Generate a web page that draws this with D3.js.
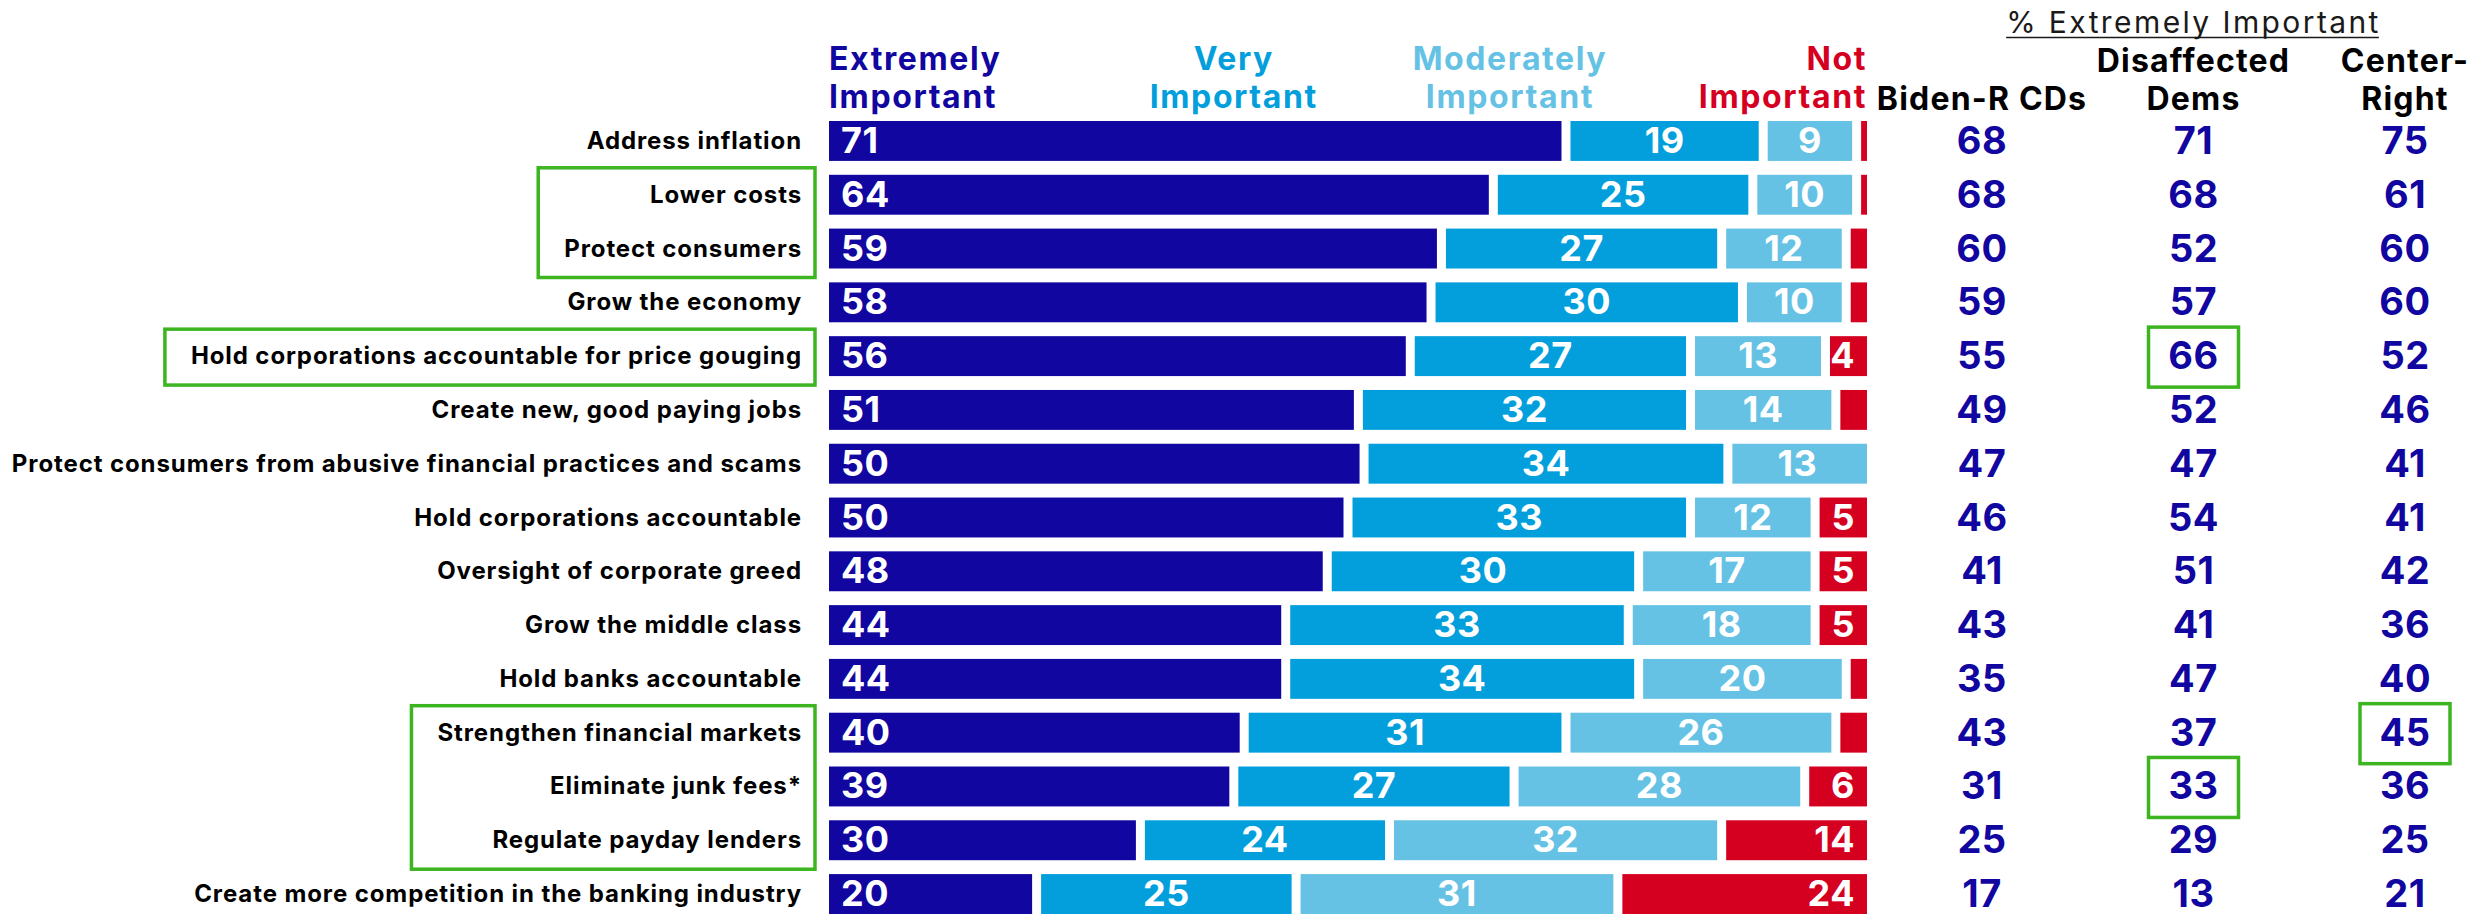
<!DOCTYPE html>
<html>
<head>
<meta charset="utf-8">
<script src="https://cdn.jsdelivr.net/npm/d3@7"></script>
<style>
  html, body { margin: 0; padding: 0; background: #fff; }
  svg { display: block; font-family: Inter, "Open Sans", sans-serif; }
</style>
</head>
<body>
<svg id="chart"></svg>
<script>
// Issues, top to bottom
const issues = [
    "Address inflation",
    "Lower costs",
    "Protect consumers",
    "Grow the economy",
    "Hold corporations accountable for price gouging",
    "Create new, good paying jobs",
    "Protect consumers from abusive financial practices and scams",
    "Hold corporations accountable",
    "Oversight of corporate greed",
    "Grow the middle class",
    "Hold banks accountable",
    "Strengthen financial markets",
    "Eliminate junk fees*",
    "Regulate payday lenders",
    "Create more competition in the banking industry"
];

// importance ratings, % of all voters
const extremely  = [71, 64, 59, 58, 56, 51, 50, 50, 48, 44, 44, 40, 39, 30, 20];
const very       = [19, 25, 27, 30, 27, 32, 34, 33, 30, 33, 34, 31, 27, 24, 25];
const moderately = [ 9, 10, 12, 10, 13, 14, 13, 12, 17, 18, 20, 26, 28, 32, 31];
const notImp     = [ 1,  1,  2,  2,  4,  3,  0,  5,  5,  5,  2,  3,  6, 14, 24];

const levels = ["Extremely Important", "Very Important", "Moderately Important", "Not Important"];
const levelLines = [["Extremely", "Important"], ["Very", "Important"], ["Moderately", "Important"], ["Not", "Important"]];
const levelColors = ["#11069f", "#039fdc", "#66c2e4", "#d5001f"];

// % extremely important by group
const groups = ["Biden-R CDs", "Disaffected Dems", "Center-Right"];
const groupLines = [["Biden-R CDs"], ["Disaffected", "Dems"], ["Center-", "Right"]];
const bidenR      = [68, 68, 60, 59, 55, 49, 47, 46, 41, 43, 35, 43, 31, 25, 17];
const disaffected = [71, 68, 52, 57, 66, 52, 47, 54, 51, 41, 47, 37, 33, 29, 13];
const centerRight = [75, 61, 60, 60, 52, 46, 41, 41, 42, 36, 40, 45, 36, 25, 21];
const groupValues = [bidenR, disaffected, centerRight];

// green highlight boxes
const labelHighlights = [[1, 2], [4], [11, 12, 13]];
const cellHighlights = [[4, "Disaffected Dems"], [11, "Center-Right"], [12, "Disaffected Dems"]];

const width = 2481, height = 916;
const navy = "#11069f", green = "#3cb521";

const svg = d3.select("#chart")
    .attr("width", width)
    .attr("height", height);

// scales
const y = d3.scaleBand()
    .domain(issues)
    .range([121, 914])
    .paddingInner(0.258);

const x = d3.scaleLinear()
    .domain([0, 100])
    .range([829, 1867]);

const gx = d3.scalePoint()
    .domain(groups)
    .range([1982, 2405]);

const gap = 9;

// build stacked rows (each row spans the full width)
const rows = issues.map((issue, i) => {
    const vals = [extremely[i], very[i], moderately[i], notImp[i]];
    const total = d3.sum(vals);
    let cum = 0;
    const segs = vals.map((v, k) => {
        const s = { issue, k, value: v, start: cum / total * 100, end: (cum + v) / total * 100 };
        cum += v;
        return s;
    }).filter(s => s.value > 0);
    segs.forEach((s, j) => { s.first = j === 0; s.last = j === segs.length - 1; });
    return segs;
});
const segments = rows.flat();

const barG = svg.append("g").attr("class", "bars");

barG.selectAll("rect")
    .data(segments)
    .join("rect")
    .attr("x", d => x(d.start) + (d.first ? 0 : gap / 2))
    .attr("width", d => Math.max(1.5, x(d.end) - x(d.start) - (d.first ? 0 : gap / 2) - (d.last ? 0 : gap / 2)))
    .attr("y", d => y(d.issue))
    .attr("height", y.bandwidth())
    .attr("fill", d => levelColors[d.k]);

// value labels inside bars
barG.selectAll("text")
    .data(segments.filter(d => d.k < 3 || d.value >= 4))
    .join("text")
    .attr("x", d => {
        if (d.k === 0) return x(d.start) + 12;
        if (d.k === 3) return x(d.end) - 12;
        return (x(d.start) + x(d.end)) / 2;
    })
    .attr("y", d => y(d.issue) + y.bandwidth() / 2 + 12)
    .attr("text-anchor", d => d.k === 0 ? "start" : d.k === 3 ? "end" : "middle")
    .attr("fill", "white")
    .style("font-size", "36px")
    .style("font-weight", 700)
    .style("letter-spacing", "0.5px")
    .text(d => d.value);

// issue labels
const labelG = svg.append("g").attr("class", "labels");
labelG.selectAll("text")
    .data(issues)
    .join("text")
    .attr("x", 802)
    .attr("y", d => y(d) + y.bandwidth() / 2 + 8)
    .attr("text-anchor", "end")
    .attr("fill", "#000")
    .style("font-size", "24px")
    .style("font-weight", 700)
    .style("letter-spacing", "0.9px")
    .text(d => d);

// legend headers over bars
const legendX = [x(0), x(39), x(65.6), x(100)];
const legendAnchor = ["start", "middle", "middle", "end"];
levelLines.forEach((lines, k) => {
    const t = svg.append("text")
        .attr("x", legendX[k])
        .attr("text-anchor", legendAnchor[k])
        .attr("fill", levelColors[k])
        .style("font-size", "32px")
        .style("font-weight", 700)
        .style("letter-spacing", "1.6px");
    lines.forEach((line, j) => {
        t.append("tspan")
            .attr("x", legendX[k])
            .attr("y", 108 - (lines.length - 1 - j) * 38)
            .text(line);
    });
});

// group column title
const title = svg.append("text")
    .attr("x", gx("Disaffected Dems"))
    .attr("y", 33)
    .attr("text-anchor", "middle")
    .attr("fill", "#1a1a1a")
    .style("font-size", "30px")
    .style("font-weight", 400)
    .style("letter-spacing", "2.4px")
    .text("% Extremely Important");
const tb = title.node().getBBox();
svg.append("line")
    .attr("x1", tb.x).attr("x2", tb.x + tb.width - 2)
    .attr("y1", 37.5).attr("y2", 37.5)
    .attr("stroke", "#1a1a1a")
    .attr("stroke-width", 1.6);

// group headers
groupLines.forEach((lines, g) => {
    const t = svg.append("text")
        .attr("text-anchor", "middle")
        .attr("fill", "#000")
        .style("font-size", "32px")
        .style("font-weight", 700)
        .style("letter-spacing", "1.2px");
    lines.forEach((line, j) => {
        t.append("tspan")
            .attr("x", gx(groups[g]))
            .attr("y", 110 - (lines.length - 1 - j) * 38)
            .text(line);
    });
});

// group values
const valueG = svg.append("g").attr("class", "group-values");
groups.forEach((grp, g) => {
    valueG.selectAll(null)
        .data(groupValues[g])
        .join("text")
        .attr("x", gx(grp))
        .attr("y", (d, i) => y(issues[i]) + y.bandwidth() / 2 + 13)
        .attr("text-anchor", "middle")
        .attr("fill", navy)
        .style("font-size", "38px")
        .style("font-weight", 700)
        .style("letter-spacing", "0.5px")
        .text(d => d);
});

// highlight boxes around labels
const labelNodes = labelG.selectAll("text").nodes();
labelHighlights.forEach(idx => {
    const left = d3.min(idx, i => labelNodes[i].getBBox().x) - 26;
    const top = y(issues[idx[0]]) - 7;
    const bottom = y(issues[idx[idx.length - 1]]) + y.bandwidth() + 9;
    svg.append("rect")
        .attr("x", left)
        .attr("y", top)
        .attr("width", 815 - left)
        .attr("height", bottom - top)
        .attr("fill", "none")
        .attr("stroke", green)
        .attr("stroke-width", 3.5);
});

// highlight boxes around group values
cellHighlights.forEach(([i, grp]) => {
    const cy = y(issues[i]) + y.bandwidth() / 2 + 1;
    svg.append("rect")
        .attr("x", gx(grp) - 45)
        .attr("y", cy - 30)
        .attr("width", 90)
        .attr("height", 60)
        .attr("fill", "none")
        .attr("stroke", green)
        .attr("stroke-width", 3.5);
});
</script>
</body>
</html>
